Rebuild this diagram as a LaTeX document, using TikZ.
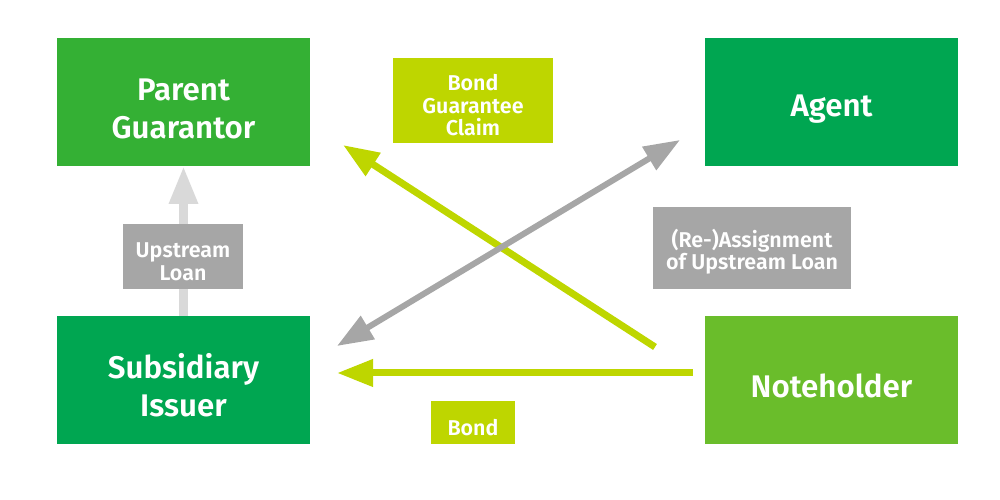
\documentclass[tikz,border=0pt]{standalone}
\usepackage{fontspec}
\setmainfont{Fira Sans}[BoldFont={Fira Sans SemiBold}]
\usepackage{xcolor}
\usepackage{tikz}
\usetikzlibrary{arrows.meta, positioning}
\definecolor{parentgreen}{HTML}{34B034}
\definecolor{darkgreen}{HTML}{00A651}
\definecolor{lightgreen}{HTML}{6ABD2B}
\definecolor{limegreen}{HTML}{BED600}
\definecolor{labelgray}{HTML}{A6A6A6}
\definecolor{palegray}{HTML}{D9D9D9}
\newcommand{\padbig}{\rule{0pt}{20.5pt}}
\newcommand{\padsmall}{\rule{0pt}{14.5pt}}

\begin{document}
\begin{tikzpicture}[
    mainbox/.style={rectangle, fill=#1, text=white, minimum width=5.06cm, minimum height=2.56cm, inner sep=0pt, outer sep=0pt, align=center, font=\fontsize{17.8}{21.6}\selectfont\bfseries},
    tag/.style={rectangle, fill=#1, text=white, align=center, inner sep=0pt, outer sep=0pt, font=\fontsize{12.2}{12.6}\selectfont\bfseries},
    flow/.style={line width=0.14cm, draw=#1, -{Triangle[length=0.72cm, width=0.52cm]}}
]
\useasboundingbox (0,0) rectangle (20,10);

% Parties
\node[mainbox=parentgreen] (parent) at (3.67,7.96) {\padbig Parent\\Guarantor};
\node[mainbox=darkgreen, right=7.9cm of parent] (agent) {\padbig Agent};
\node[mainbox=darkgreen, below=3cm of parent] (issuer) {\padbig Subsidiary\\Issuer};
\node[mainbox=lightgreen, below=3cm of agent] (noteholder) {\padbig Noteholder};

% Arrow ends
\coordinate (claimstart) at (13.1,3.06);
\coordinate (claimend) at (6.86,7.1);
\coordinate (assignlow) at (6.74,3.08);
\coordinate (assignhigh) at (13.6,7.2);
\coordinate (bondstart) at (13.86,2.54);
\coordinate (bondend) at (6.74,2.54);

% Arrows
\draw[flow=palegray, line width=0.18cm, -{Triangle[length=0.76cm, width=0.54cm]}] (issuer.north) -- (parent.south);
\draw[flow=limegreen] (claimstart) -- (claimend);
\draw[flow=labelgray, line width=0.12cm, {Triangle[length=0.72cm, width=0.52cm]}-{Triangle[length=0.72cm, width=0.52cm]}] (assignlow) -- (assignhigh);
\draw[flow=limegreen] (bondstart) -- (bondend);

% Labels
\node[tag=limegreen, minimum width=3.2cm, minimum height=1.7cm] (claim) at (9.46,7.99) {\padsmall Bond\\Guarantee\\Claim};
\node[tag=labelgray, minimum width=2.4cm, minimum height=1.3cm] (upstream) at (3.66,4.87) {\padsmall Upstream\\Loan};
\node[tag=labelgray, minimum width=3.96cm, minimum height=1.64cm] (assignment) at (15.04,5.04) {\padsmall (Re-)Assignment\\of Upstream Loan};
\node[tag=limegreen, minimum width=1.68cm, minimum height=0.86cm] (bond) at (9.46,1.55) {\padsmall Bond};

\end{tikzpicture}
\end{document}
